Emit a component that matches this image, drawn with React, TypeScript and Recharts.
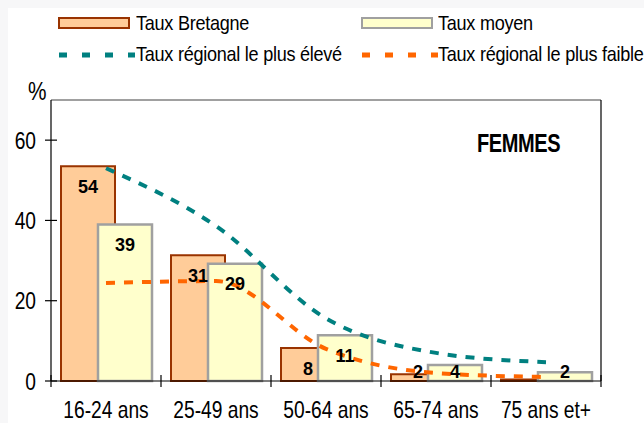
import React from 'react';
import { ComposedChart, Bar, Line, XAxis, YAxis, ReferenceLine, LabelList } from 'recharts';

const categories = ['16-24 ans', '25-49 ans', '50-64 ans', '65-74 ans', '75 ans et+'];
const tauxBretagne = [53.5, 31.3, 8.2, 1.7, 0.4];
const tauxMoyen = [39, 29.2, 11.4, 4, 2.2];
const tauxPlusEleve = [53, 38.6, 15.6, 7, 4.7];
const tauxPlusFaible = [24.4, 24.9, 8, 2, 1];
const yTicks = [0, 20, 40, 60];
const yMax = 70;

const data = categories.map((cat, i) => ({
  cat,
  bretagne: tauxBretagne[i],
  moyen: tauxMoyen[i],
  max: tauxPlusEleve[i],
  min: tauxPlusFaible[i],
}));

const SANS = "'Liberation Sans', Arial, sans-serif";
const SX = 0.8;

const NarrowText = (p: { x: number; y: number; anchor: string; size: number; bold?: boolean; children: any }) => (
  <g transform={`translate(${p.x},${p.y}) scale(${SX},1)`}>
    <text x={0} y={0} textAnchor={p.anchor as any} fontFamily={SANS} fontSize={p.size} fontWeight={p.bold ? 'bold' : 'normal'} fill="#000">
      {p.children}
    </text>
  </g>
);

const LeftTick = (props: any) => {
  const { x, y, payload } = props;
  return (
    <g>
      <line x1={x - 6} x2={x + 6} y1={y} y2={y} stroke="#000" strokeWidth={1.2} />
      <NarrowText x={x - 15} y={y + 8.5} anchor="end" size={24}>{payload.value}</NarrowText>
    </g>
  );
};

const RightTick = (props: any) => {
  const { x, y, payload } = props;
  return (
    <g>
      <line x1={x - 6} x2={x + 6} y1={y} y2={y} stroke="#000" strokeWidth={1.2} />
      <NarrowText x={x + 14} y={y + 8.5} anchor="start" size={24}>{payload.value}</NarrowText>
    </g>
  );
};

const XTick = (props: any) => {
  const { x, y, payload, index, visibleTicksCount } = props;
  const off = payload && payload.offset ? payload.offset : 55;
  const last = index === (visibleTicksCount ?? categories.length) - 1;
  return (
    <g>
      <line x1={x - off} x2={x - off} y1={y - 6} y2={y + 6} stroke="#000" strokeWidth={1.2} />
      {last && <line x1={x + off} x2={x + off} y1={y - 6} y2={y + 6} stroke="#000" strokeWidth={1.2} />}
      <NarrowText x={x} y={y + 37} anchor="middle" size={24}>{payload.value}</NarrowText>
    </g>
  );
};

const BarLabel = (props: any) => {
  const { x, y, width, height, value } = props;
  const v = Math.round(value);
  if (!v) return null;
  const cy = height > 25 ? y + 20 : y + height - 9;
  return (
    <text x={x + width / 2} y={cy} dy="0.36em" textAnchor="middle" fontFamily={SANS} fontWeight="bold" fontSize={18} fill="#000">
      {v}
    </text>
  );
};

const txt: React.CSSProperties = {
  position: 'absolute',
  fontFamily: SANS,
  fontSize: 21,
  letterSpacing: -0.3,
  lineHeight: '24px',
  color: '#000',
  whiteSpace: 'nowrap',
  transform: 'scaleX(0.86)',
  transformOrigin: 'left center',
};

const LegendBox = () => {
  const box = (left: number, top: number, fill: string, stroke: string) => (
    <div style={{ position: 'absolute', left, top, width: 68, height: 8, background: fill, border: `2.5px solid ${stroke}` }} />
  );
  const dash = (left: number, top: number, color: string) => (
    <svg style={{ position: 'absolute', left, top }} width={76} height={6}>
      <line x1={0} x2={76} y1={3} y2={3} stroke={color} strokeWidth={5} strokeDasharray="8 15" />
    </svg>
  );
  return (
    <div style={{ position: 'absolute', left: 0, top: 0, width: 644, height: 80 }}>
      {box(58, 17, '#FFCC99', '#993300')}
      <div style={{ ...txt, left: 136, top: 11 }}>Taux Bretagne</div>
      {box(361, 17, '#FFFFCC', '#A0A0A0')}
      <div style={{ ...txt, left: 438, top: 11 }}>Taux moyen</div>
      {dash(59, 52, '#008080')}
      <div style={{ ...txt, left: 136, top: 42 }}>Taux régional le plus élevé</div>
      {dash(362, 52, '#FF6600')}
      <div style={{ ...txt, left: 438, top: 42 }}>Taux régional le plus faible</div>
    </div>
  );
};

export default function App() {
  return (
    <div style={{ position: 'absolute', left: 0, top: 0, width: 644, height: 423, background: '#f7f7f8' }}>
      <div style={{ position: 'absolute', left: 8, top: 8, width: 636, height: 415, background: '#fff' }} />
      <div style={{ position: 'absolute', left: 0, top: 0 }}>
        <ComposedChart
          width={644}
          height={423}
          data={data}
          margin={{ top: 100, right: 10, bottom: 12, left: 10 }}
          barSize={54}
          barGap={-17}
        >
          <XAxis
            dataKey="cat"
            height={30}
            interval={0}
            tickLine={false}
            tickSize={0}
            tickMargin={0}
            axisLine={{ stroke: '#000', strokeWidth: 1.2 }}
            tick={<XTick />}
          />
          <YAxis
            yAxisId="left"
            domain={[0, yMax]}
            ticks={yTicks}
            width={41}
            tickLine={false}
            tickSize={0}
            tickMargin={0}
            axisLine={{ stroke: '#000', strokeWidth: 1.2 }}
            tick={<LeftTick />}
          />
          <YAxis
            yAxisId="right"
            orientation="right"
            domain={[0, yMax]}
            ticks={yTicks}
            width={33}
            tickLine={false}
            tickSize={0}
            tickMargin={0}
            axisLine={{ stroke: '#000', strokeWidth: 1.2 }}
            tick={<RightTick />}
          />
          <ReferenceLine yAxisId="left" y={yMax} stroke="#808080" strokeWidth={1.5} />
          <Bar yAxisId="left" dataKey="bretagne" name="Taux Bretagne" fill="#FFCC99" stroke="#993300" strokeWidth={2} isAnimationActive={false}>
            <LabelList dataKey="bretagne" content={<BarLabel />} />
          </Bar>
          <Bar yAxisId="left" dataKey="moyen" name="Taux moyen" fill="#FFFFCC" stroke="#A0A0A0" strokeWidth={2.5} isAnimationActive={false}>
            <LabelList dataKey="moyen" content={<BarLabel />} />
          </Bar>
          <Line yAxisId="left" type="monotone" dataKey="max" name="Taux régional le plus élevé" stroke="#008080" strokeWidth={4} strokeDasharray="9 9" dot={false} isAnimationActive={false} />
          <Line yAxisId="left" type="monotone" dataKey="min" name="Taux régional le plus faible" stroke="#FF6600" strokeWidth={4} strokeDasharray="9 9" dot={false} isAnimationActive={false} />
        </ComposedChart>
      </div>
      <LegendBox />
      <div style={{ ...txt, left: 28, top: 76, fontSize: 26, lineHeight: '30px', letterSpacing: 0, transform: 'scaleX(0.8)' }}>%</div>
      <div style={{ ...txt, left: 477, top: 128, fontWeight: 'bold', fontSize: 25, letterSpacing: -0.5, lineHeight: '30px', transform: 'scaleX(0.8)' }}>FEMMES</div>
    </div>
  );
}
